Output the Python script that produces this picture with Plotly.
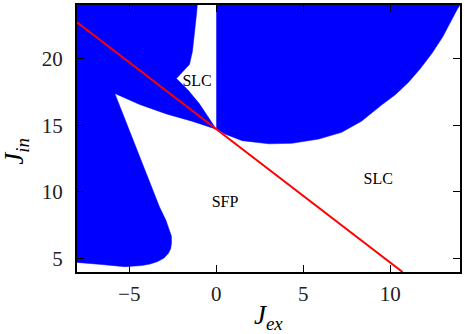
import plotly.graph_objects as go

# Blue region (left): boundary traced clockwise
left_region_x = [-8, -1.09, -1.14, -1.26, -1.37, -1.54, -1.75, -1.94, -2.29, -1.6, -0.97, 0.0,
                 -1.4, -2.86, -4.4, -5.83, -4.75, -4.0, -3.26, -2.9, -2.69, -2.58, -2.57,
                 -2.62, -2.75, -3.0, -3.37, -3.8, -4.29, -5.26, -6.57, -8]
left_region_y = [24, 24, 23.27, 21.78, 20.52, 19.55, 19.25, 19.03, 18.5, 17.6, 16.6, 14.7,
                 15.3, 15.84, 16.55, 17.38, 13.84, 11.39, 8.86, 7.9, 7.16, 6.7, 6.2,
                 5.75, 5.4, 5.05, 4.78, 4.6, 4.48, 4.4, 4.56, 4.72]

# Blue region (right)
right_region_x = [0, 14, 13.85, 13.5, 13.0, 12.4, 11.7, 11.03, 10.3, 9.49, 8.34, 7.2, 5.89,
                  4.34, 3.03, 1.49, 0.46, 0]
right_region_y = [24, 24, 23.7, 22.8, 21.6, 20.4, 19.2, 18.2, 17.3, 16.5, 15.3, 14.46, 13.96,
                  13.64, 13.6, 13.84, 14.35, 14.75]

# Red line
line_x = [-8, 10.7]
line_y = [22.7, 4.0]

# Region labels
label_text = ["SLC", "SFP", "SLC"]
label_x = [-1.1, 0.5, 9.3]
label_y = [18.2, 9.2, 10.9]

x_ticks = [-5, 0, 5, 10]
y_ticks = [5, 10, 15, 20]

BLUE = "#0000ff"
SERIF = "Liberation Serif"

fig = go.Figure()
fig.add_trace(go.Scatter(x=left_region_x, y=left_region_y, mode="lines", fill="toself",
                         fillcolor=BLUE, line=dict(color=BLUE, width=0.5),
                         hoverinfo="skip", showlegend=False))
fig.add_trace(go.Scatter(x=right_region_x, y=right_region_y, mode="lines", fill="toself",
                         fillcolor=BLUE, line=dict(color=BLUE, width=0.5),
                         hoverinfo="skip", showlegend=False))
fig.add_trace(go.Scatter(x=line_x, y=line_y, mode="lines",
                         line=dict(color="#ff0000", width=2),
                         hoverinfo="skip", showlegend=False))
fig.add_trace(go.Scatter(x=label_x, y=label_y, mode="text", text=label_text,
                         textfont=dict(family=SERIF, size=16, color="black"),
                         hoverinfo="skip", showlegend=False))

axis_common = dict(showgrid=False, zeroline=False, showline=True, linecolor="black",
                   linewidth=2, mirror="allticks", ticks="inside", ticklen=7,
                   tickwidth=1, tickcolor="black",
                   tickfont=dict(family=SERIF, size=21, color="#222"))

fig.update_xaxes(range=[-8, 14], tickvals=x_ticks, ticklabelstandoff=2, **axis_common)
fig.update_yaxes(range=[4, 24], tickvals=y_ticks, ticklabelstandoff=8, **axis_common)

fig.update_layout(
    width=465, height=334,
    margin=dict(l=77, r=3, t=3, b=62),
    plot_bgcolor="white", paper_bgcolor="white",
    annotations=[
        dict(text="<i>J</i><sub><i>ex</i></sub>", xref="paper", yref="paper",
             x=0.5, y=0, xanchor="center", yanchor="top", yshift=-26,
             showarrow=False, font=dict(family=SERIF, size=27, color="black")),
        dict(text="<i>J</i><sub><i>in</i></sub>", xref="paper", yref="paper",
             x=0, y=0.45, xanchor="right", yanchor="middle", xshift=-42,
             textangle=-90, showarrow=False,
             font=dict(family=SERIF, size=27, color="black")),
    ],
)

fig.write_html("out.html")
